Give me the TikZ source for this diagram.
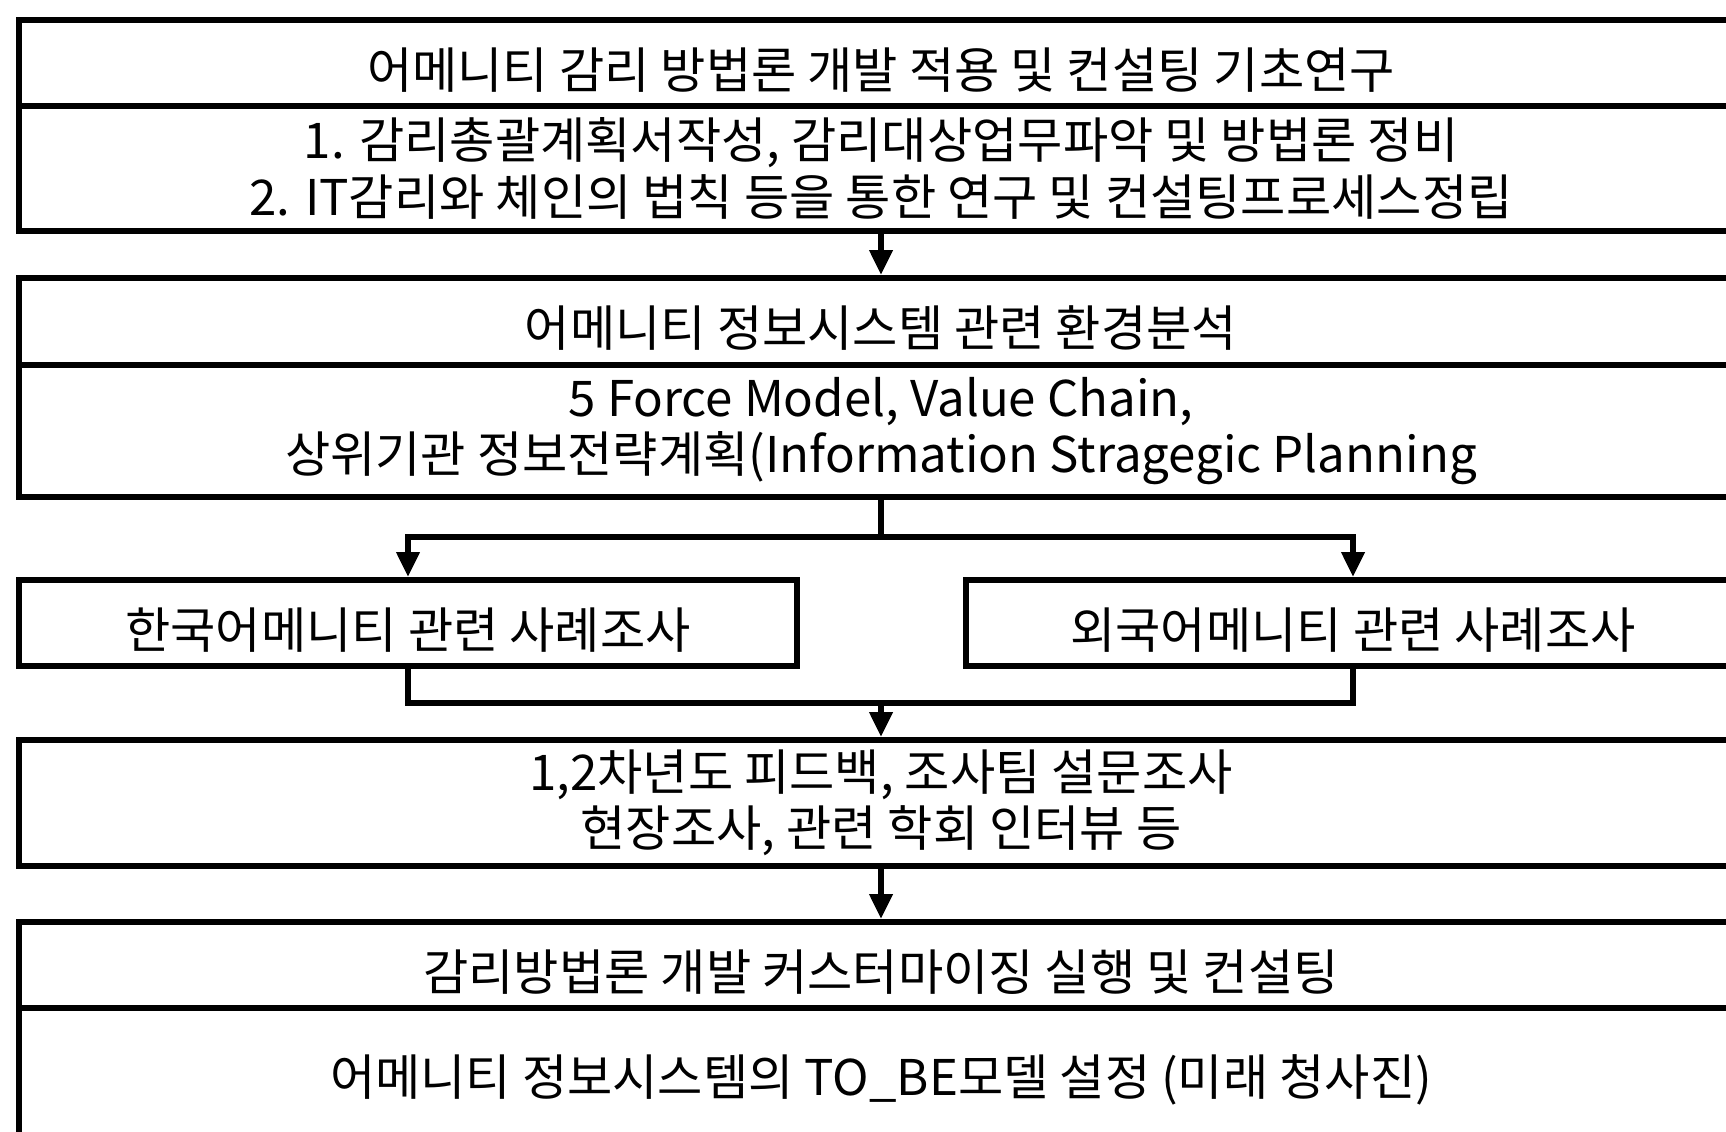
\documentclass[tikz,border=0pt]{standalone}
\usepackage{fontspec}
\setmainfont{Noto Sans CJK KR}
\usetikzlibrary{arrows.meta}

\tikzset{
  cell/.style={draw, line width=1.6pt, minimum width=17.24cm, inner sep=0pt,
    align=center, font=\fontsize{14}{16}\selectfont,
    execute at begin node={\rule{0pt}{15.5pt}}},
  pair/.style={cell, execute at begin node={\rule{0pt}{17.5pt}}},
  casebox/.style={draw, line width=1.6pt, minimum height=0.86cm, inner sep=0pt,
    font=\fontsize{14}{16}\selectfont,
    execute at begin node={\rule{0pt}{15.5pt}}},
  flow/.style={line width=1.8pt, -{Triangle[length=0.25cm,width=0.22cm]}},
  link/.style={line width=1.8pt}
}

\begin{document}
\begin{tikzpicture}
    \useasboundingbox (0,0) rectangle (17.26,11.31);
    \clip (0,0) rectangle (17.26,11.31);
    % first stage
    \node[cell, minimum height=0.86cm] (plan) at (8.81,10.68) {어메니티 감리 방법론 개발 적용 및 컨설팅 기초연구};
    \node[pair, minimum height=1.25cm] (plando) at (8.81,9.625) {1. 감리총괄계획서작성, 감리대상업무파악 및 방법론 정비\\2. IT감리와 체인의 법칙 등을 통한 연구 및 컨설팅프로세스정립};
    % environment analysis
    \node[cell, minimum height=0.87cm] (env) at (8.81,8.095) {어메니티 정보시스템 관련 환경분석};
    \node[pair, minimum height=1.32cm] (envdo) at (8.81,7.0) {5 Force Model, Value Chain,\\상위기관 정보전략계획(Information Stragegic Planning};
    % case studies
    \node[casebox, minimum width=7.78cm] (lcase) at (4.08,5.08) {한국어메니티 관련 사례조사};
    \node[casebox, minimum width=7.74cm] (rcase) at (13.53,5.08) {외국어메니티 관련 사례조사};
    % survey
    \node[pair, minimum height=1.26cm] (survey) at (8.81,3.28) {1,2차년도 피드백, 조사팀 설문조사\\현장조사, 관련 학회 인터뷰 등};
    % customizing
    \node[cell, minimum height=0.86cm] (custom) at (8.81,1.66) {감리방법론 개발 커스터마이징 실행 및 컨설팅};
    \node[cell, minimum height=1.30cm] (tobe) at (8.81,0.58) {어메니티 정보시스템의 TO\_BE모델 설정 (미래 청사진)};

    \coordinate (fork) at (8.81,5.94);
    \coordinate (join) at (8.81,4.28);
    \draw[flow] (plando.south) -- (env.north);
    \draw[link] (envdo.south) -- (fork);
    \draw[flow] (fork) -| (lcase.north);
    \draw[flow] (fork) -| (rcase.north);
    \draw[link] (lcase.south) |- (join) -| (rcase.south);
    \draw[flow] (join) -- (survey.north);
    \draw[flow] (survey.south) -- (custom.north);
\end{tikzpicture}
\end{document}
